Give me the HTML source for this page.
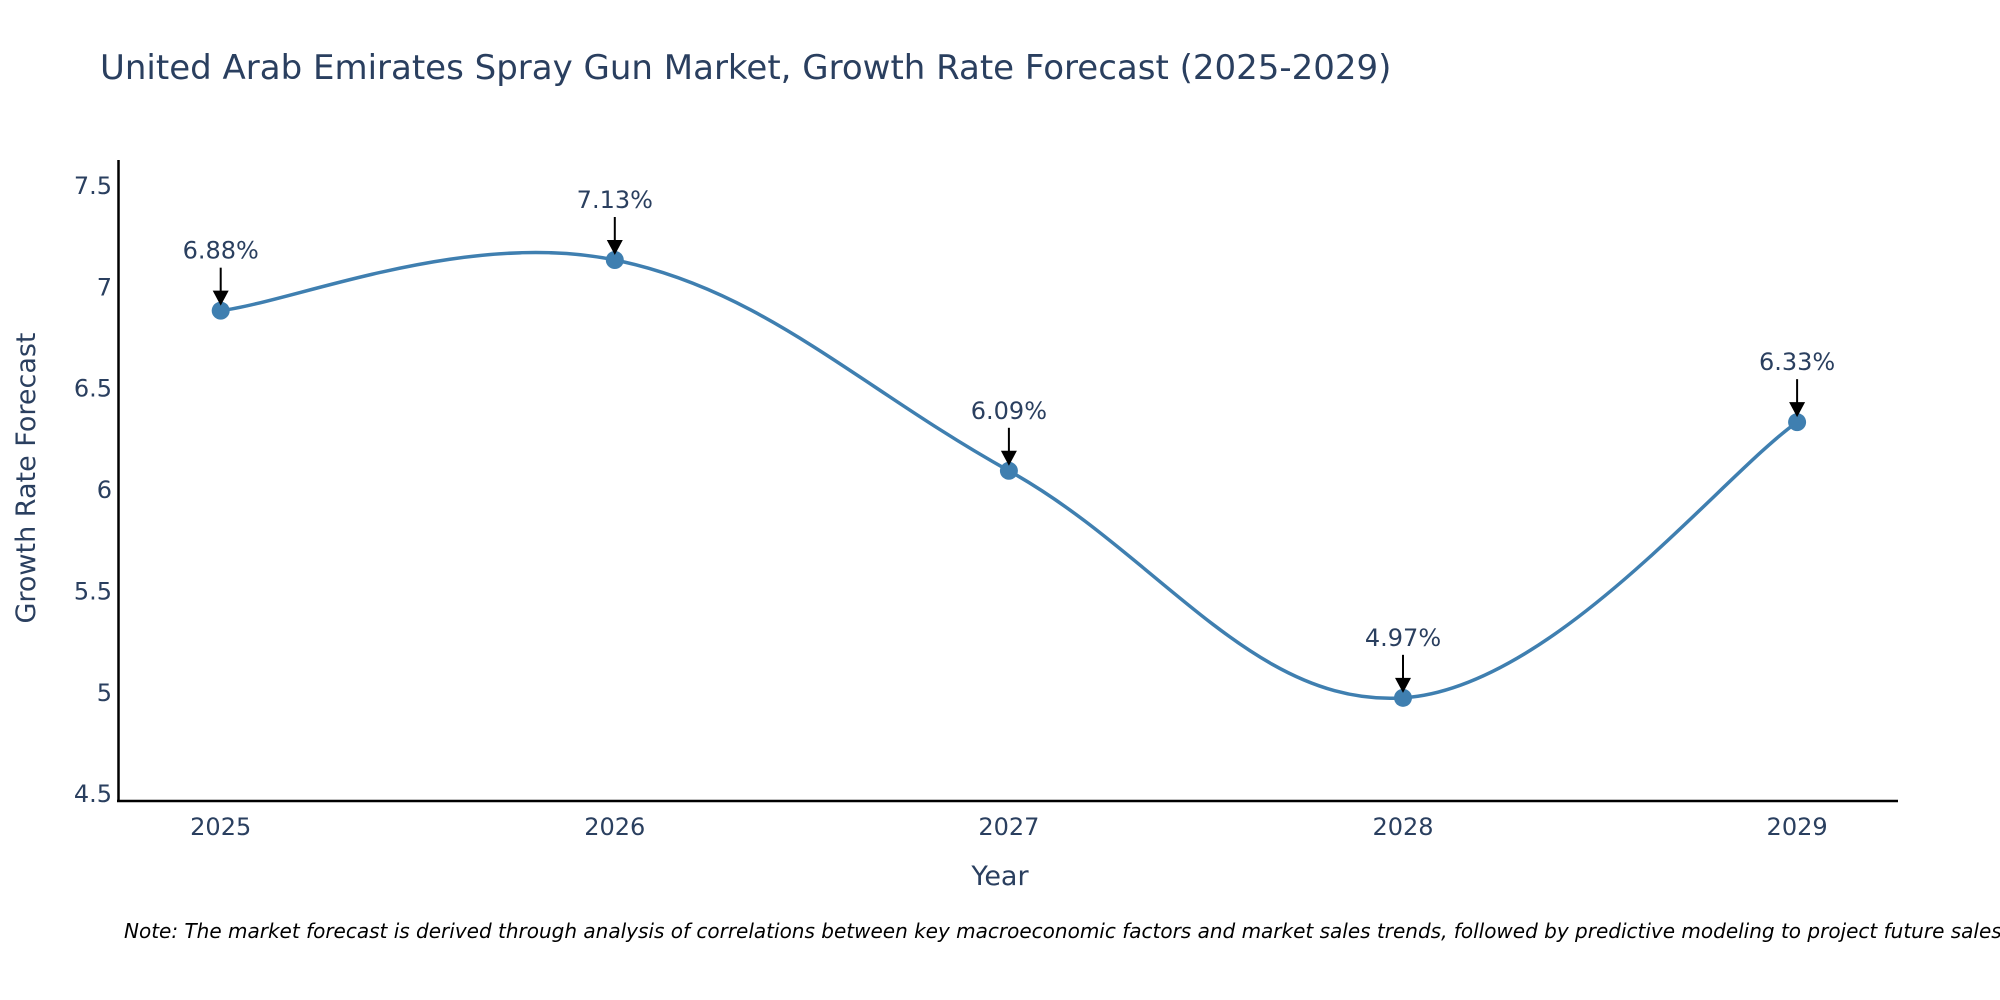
<!DOCTYPE html>
<html><head><meta charset="utf-8"><style>
body{margin:0;background:#fff}
svg{display:block;font-family:"DejaVu Sans","Liberation Sans",sans-serif}
</style></head><body>
<svg id="c" width="2000" height="1000">
<text x="100" y="79" font-size="34" fill="#2a3f5f">United Arab Emirates Spray Gun Market, Growth Rate Forecast (2025-2029)</text>
<g id="yt"></g>
<g id="xt"></g>
<line x1="118.5" y1="160" x2="118.5" y2="802" stroke="#000" stroke-width="2.5"/>
<line x1="117" y1="801" x2="1898" y2="801" stroke="#000" stroke-width="2.5"/>
<text x="1000" y="885" font-size="27" fill="#2a3f5f" text-anchor="middle">Year</text>
<text transform="translate(35,478) rotate(-90)" font-size="27" fill="#2a3f5f" text-anchor="middle">Growth Rate Forecast</text>
<path id="ln" fill="none" stroke="#3f7fb0" stroke-width="3.5"/>
<g id="pts"></g>
<text x="124" y="938" font-size="20" font-style="italic" fill="#000">Note: The market forecast is derived through analysis of correlations between key macroeconomic factors and market sales trends, followed by predictive modeling to project future sales.</text>
</svg>
<script>
const years=["2025","2026","2027","2028","2029"];
const values=[6.88,7.13,6.09,4.97,6.33];
const yTicks=[4.5,5,5.5,6,6.5,7,7.5];
const NS="http://www.w3.org/2000/svg";
const X=i=>220.7+i*394.1;
const Y=v=>185+(7.5-v)*202.7;
function mk(t,a,p){const e=document.createElementNS(NS,t);for(const k in a)e.setAttribute(k,a[k]);p.appendChild(e);return e;}
const yt=document.getElementById('yt');
yTicks.forEach(v=>{const t=mk('text',{x:112,y:Y(v)+9,'font-size':24,fill:'#2a3f5f','text-anchor':'end'},yt);t.textContent=String(v);

});
const xt=document.getElementById('xt');
years.forEach((y,i)=>{const t=mk('text',{x:X(i),y:835,'font-size':24,fill:'#2a3f5f','text-anchor':'middle'},xt);t.textContent=y;

});
const P=values.map((v,i)=>[X(i),Y(v)]);
let d=`M${P[0][0]},${P[0][1]}`;const s=0.19;
for(let i=0;i<P.length-1;i++){const p0=P[Math.max(0,i-1)],p1=P[i],p2=P[i+1],p3=P[Math.min(P.length-1,i+2)];
const c1=[p1[0]+(p2[0]-p0[0])*s,p1[1]+(p2[1]-p0[1])*s],c2=[p2[0]-(p3[0]-p1[0])*s,p2[1]-(p3[1]-p1[1])*s];
d+=` C${c1[0]},${c1[1]} ${c2[0]},${c2[1]} ${p2[0]},${p2[1]}`;}
document.getElementById('ln').setAttribute('d',d);
const g=document.getElementById('pts');
values.forEach((v,i)=>{const x=X(i),y=Y(v);
const c=mk('circle',{cx:x,cy:y,r:9,fill:'#3f7fb0'},g);


const l=mk('line',{x1:x,y1:y-43,x2:x,y2:y-18,stroke:'#000','stroke-width':2},g);


const a=mk('polygon',{points:`${x-8},${y-20} ${x+8},${y-20} ${x},${y-5}`,fill:'#000'},g);


const t=mk('text',{x:x,y:y-52,'font-size':24,fill:'#2a3f5f','text-anchor':'middle'},g);t.textContent=v.toFixed(2)+'%';

});
</script>
</body></html>
